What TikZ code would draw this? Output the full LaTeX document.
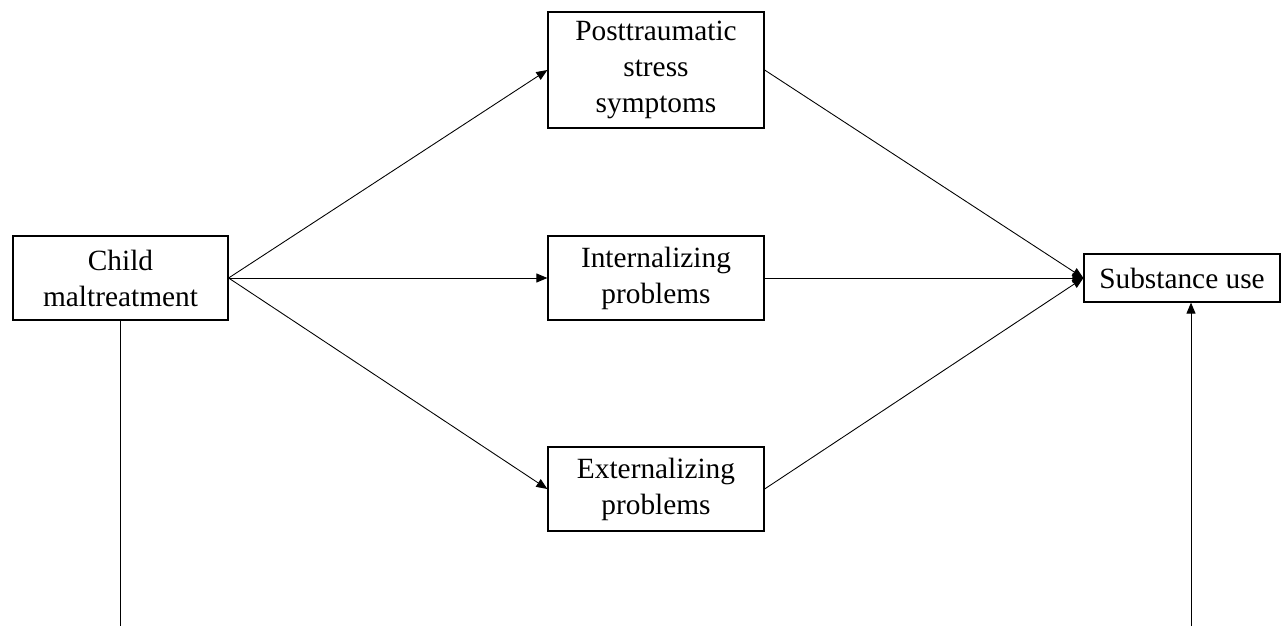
\documentclass[tikz,border=0pt]{standalone}
\usepackage{fontspec}
\setmainfont{Liberation Serif}
\usetikzlibrary{arrows.meta}
\begin{document}
\begin{tikzpicture}
    \tikzset{box/.style=  {draw,
                           rectangle,
                           align=center,
                           line width=0.7pt,
                           inner sep=0pt,
                           font=\fontsize{16.7}{20.5}\selectfont,
                           minimum width=4.32cm,
                           minimum height=1.68cm},
             path/.style= {line width=0.5pt,
                           -{Triangle[length=2.2mm,width=1.8mm]}},
            }
    \useasboundingbox (0,0) rectangle (25.62,12.52);
    \path
    (2.41,6.96)   node[box, minimum width=4.3cm](cm) {Child\\maltreatment}
    (13.12,11.12) node[box, minimum height=2.32cm](pts) {Posttraumatic\\stress\\symptoms}
    (13.12,6.96)  node[box](int) {Internalizing\\problems}
    (13.12,2.74)  node[box](ext) {Externalizing\\problems}
    (23.64,6.96)  node[box, minimum width=3.92cm, minimum height=0.96cm](su) {Substance use}
    ;
    \coordinate (cmb) at (2.40,0);
    \coordinate (sub) at (23.82,0);
    \draw[path] (cm.east) -- (pts.west);
    \draw[path] (cm.east) -- (int.west);
    \draw[path] (cm.east) -- (ext.west);
    \draw[path] (pts.east) -- (su.west);
    \draw[path] (int.east) -- (su.west);
    \draw[path] (ext.east) -- (su.west);
    \draw[line width=0.5pt] (cm.south -| cmb) -- (cmb);
    \draw[path] (sub) -- (sub |- su.south);
\end{tikzpicture}
\end{document}
